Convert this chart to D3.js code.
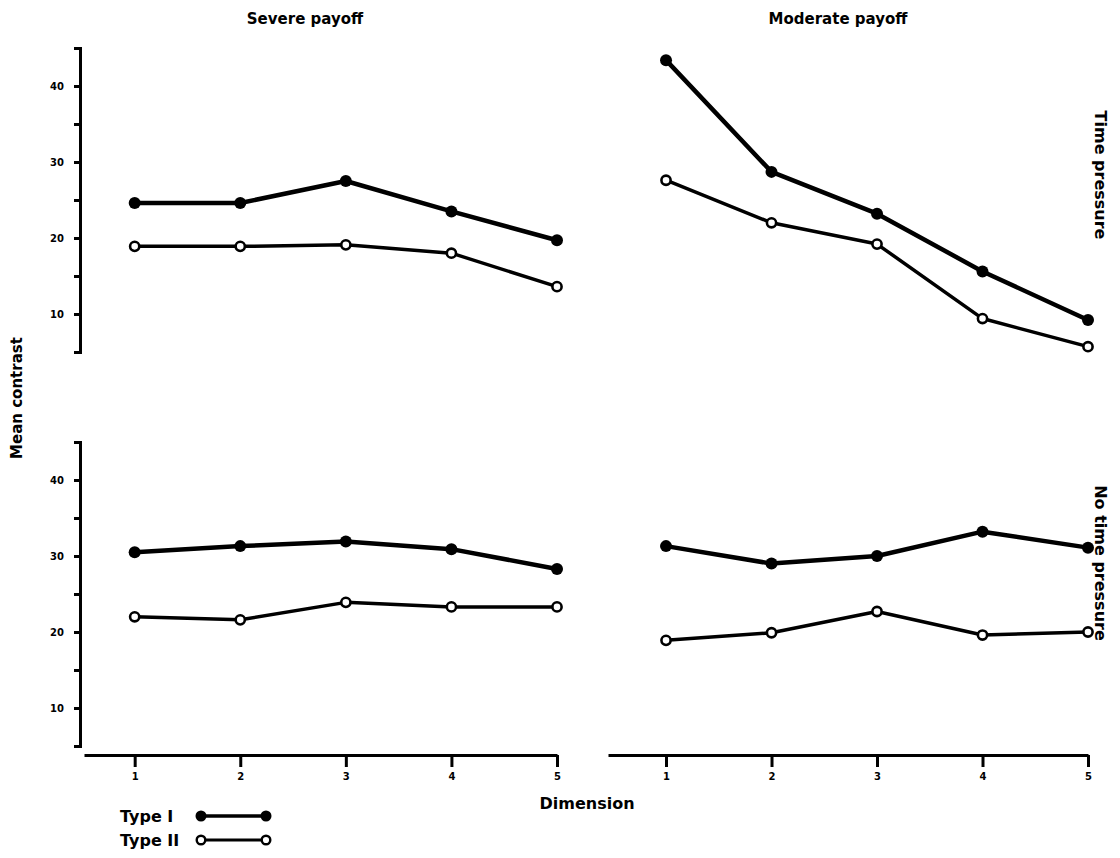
<!DOCTYPE html>
<html>
<head>
<meta charset="utf-8">
<script src="https://cdn.jsdelivr.net/npm/d3@7"></script>
<style>
  html, body { margin: 0; padding: 0; background: #fff; }
  svg { display: block; }
  text { font-family: "DejaVu Sans", "Liberation Sans", sans-serif; font-weight: bold; fill: #000; }
</style>
</head>
<body>
<svg id="chart" width="1120" height="858"></svg>
<script>
// ---- data ----
const dimensions = [1, 2, 3, 4, 5];
const columnTitles = ["Severe payoff", "Moderate payoff"];
const rowTitles = ["Time pressure", "No time pressure"];
const yTickValues = [5, 10, 15, 20, 25, 30, 35, 40, 45];
const yTickLabels = [10, 20, 30, 40];
const seriesNames = ["Type I", "Type II"];

const severeTimeTypeI   = [24.6, 24.6, 27.5, 23.5, 19.7];
const severeTimeTypeII  = [18.9, 18.9, 19.1, 18.0, 13.6];
const moderateTimeTypeI  = [43.4, 28.7, 23.2, 15.6, 9.2];
const moderateTimeTypeII = [27.6, 22.0, 19.2, 9.4, 5.7];
const severeNoTimeTypeI   = [30.5, 31.3, 31.9, 30.9, 28.3];
const severeNoTimeTypeII  = [22.0, 21.6, 23.9, 23.3, 23.3];
const moderateNoTimeTypeI  = [31.3, 29.0, 30.0, 33.2, 31.1];
const moderateNoTimeTypeII = [18.9, 19.9, 22.7, 19.6, 20.0];

// ---- scales ----
const svg = d3.select("#chart");
const xL = d3.scaleLinear().domain([0.52, 5]).range([84, 557]);
const xR = d3.scaleLinear().domain([0.45, 5]).range([608, 1088]);
const yT = d3.scaleLinear().domain([5, 45]).range([352, 48]);
const yB = d3.scaleLinear().domain([5, 45]).range([746, 442]);

const panels = [
  { x: xL, y: yT, I: severeTimeTypeI, II: severeTimeTypeII },
  { x: xR, y: yT, I: moderateTimeTypeI, II: moderateTimeTypeII },
  { x: xL, y: yB, I: severeNoTimeTypeI, II: severeNoTimeTypeII },
  { x: xR, y: yB, I: moderateNoTimeTypeI, II: moderateNoTimeTypeII }
];

// ---- y axes ----
function drawYAxis(y) {
  const g = svg.append("g").attr("transform", "translate(80,0)")
    .call(d3.axisLeft(y).tickValues(yTickValues).tickSize(6).tickSizeOuter(6).tickPadding(10)
      .tickFormat(d => yTickLabels.includes(d) ? d : ""));
  g.select(".domain").attr("stroke", "#000").attr("stroke-width", 3);
  g.selectAll(".tick line").attr("stroke", "#000").attr("stroke-width", 3);
  g.selectAll(".tick text")
    .style("font-size", "10px").style("font-weight", "bold")
    .style("font-family", "DejaVu Sans, sans-serif");
}
drawYAxis(yT);
drawYAxis(yB);

// ---- x axes ----
function drawXAxis(x) {
  const g = svg.append("g").attr("transform", "translate(0,755)")
    .call(d3.axisBottom(x).tickValues(dimensions).tickSize(12).tickSizeOuter(0).tickPadding(6)
      .tickFormat(d3.format("d")));
  g.select(".domain").attr("stroke", "#000").attr("stroke-width", 3);
  g.selectAll(".tick line").attr("stroke", "#000").attr("stroke-width", 3);
  g.selectAll(".tick text").style("font-size", "10px").style("font-weight", "bold")
    .style("font-family", "DejaVu Sans, sans-serif");
}
drawXAxis(xL);
drawXAxis(xR);

// ---- series ----
panels.forEach(p => {
  const line = d3.line().x((d, i) => p.x(dimensions[i])).y(d => p.y(d));
  svg.append("path").datum(p.II).attr("d", line)
    .attr("fill", "none").attr("stroke", "#000").attr("stroke-width", 3.5).attr("stroke-linejoin", "round");
  svg.append("path").datum(p.I).attr("d", line)
    .attr("fill", "none").attr("stroke", "#000").attr("stroke-width", 4.5).attr("stroke-linejoin", "round");
  svg.selectAll(null).data(p.I).enter().append("circle")
    .attr("cx", (d, i) => p.x(dimensions[i])).attr("cy", d => p.y(d))
    .attr("r", 6).attr("fill", "#000");
  svg.selectAll(null).data(p.II).enter().append("circle")
    .attr("cx", (d, i) => p.x(dimensions[i])).attr("cy", d => p.y(d))
    .attr("r", 4.6).attr("fill", "#fff").attr("stroke", "#000").attr("stroke-width", 2.6);
});

// ---- titles ----
svg.append("text").attr("x", 305).attr("y", 24).attr("text-anchor", "middle")
  .style("font-size", "15px").text(columnTitles[0]);
svg.append("text").attr("x", 838).attr("y", 24).attr("text-anchor", "middle")
  .style("font-size", "15px").text(columnTitles[1]);

svg.append("text").attr("transform", "translate(1101,175) rotate(90)").attr("text-anchor", "middle")
  .attr("dy", "0.35em").style("font-size", "16px").text(rowTitles[0]);
svg.append("text").attr("transform", "translate(1101,563) rotate(90)").attr("text-anchor", "middle")
  .attr("dy", "0.35em").style("font-size", "16px").text(rowTitles[1]);

svg.append("text").attr("transform", "translate(17,398) rotate(-90)").attr("text-anchor", "middle")
  .attr("dy", "0.35em").style("font-size", "15px").text("Mean contrast");

svg.append("text").attr("x", 587).attr("y", 809).attr("text-anchor", "middle")
  .style("font-size", "16px").text("Dimension");

// ---- legend ----
const legendY = [816, 840];
seriesNames.forEach((name, i) => {
  const yy = legendY[i];
  svg.append("text").attr("x", 120).attr("y", yy + 6).style("font-size", "16px").text(name);
  svg.append("line").attr("x1", 201).attr("x2", 266).attr("y1", yy).attr("y2", yy)
    .attr("stroke", "#000").attr("stroke-width", i === 0 ? 3.5 : 3);
  [201, 266].forEach(cx => {
    if (i === 0) {
      svg.append("circle").attr("cx", cx).attr("cy", yy).attr("r", 5.5).attr("fill", "#000");
    } else {
      svg.append("circle").attr("cx", cx).attr("cy", yy).attr("r", 4.3)
        .attr("fill", "#fff").attr("stroke", "#000").attr("stroke-width", 2.4);
    }
  });
});
</script>
</body>
</html>
